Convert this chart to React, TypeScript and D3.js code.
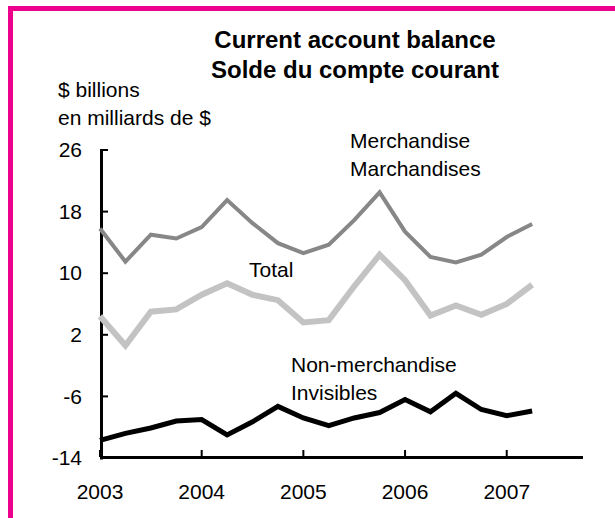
import React, { useEffect, useRef } from 'react';
import * as d3 from 'd3';

// quarterly observations, 2003Q1 .. 2007Q2 (as fractional years)
const periods = [
  2003, 2003.25, 2003.5, 2003.75,
  2004, 2004.25, 2004.5, 2004.75,
  2005, 2005.25, 2005.5, 2005.75,
  2006, 2006.25, 2006.5, 2006.75,
  2007, 2007.25,
];

const merchandise = [15.8, 11.5, 15.0, 14.5, 16.0, 19.5, 16.5, 13.9, 12.6, 13.7, 16.9, 20.5, 15.4, 12.1, 11.4, 12.4, 14.7, 16.4];
const total = [4.4, 0.6, 5.0, 5.3, 7.2, 8.7, 7.2, 6.5, 3.6, 3.9, 8.3, 12.4, 9.1, 4.5, 5.8, 4.6, 6.0, 8.5];
const nonMerchandise = [-11.7, -10.8, -10.1, -9.2, -9.0, -11.0, -9.3, -7.3, -8.8, -9.8, -8.8, -8.1, -6.4, -8.0, -5.6, -7.7, -8.5, -7.9];

const yTicks = [26, 18, 10, 2, -6, -14];
const xTicks = [2003, 2004, 2005, 2006, 2007];

const titleLines = ['Current account balance', 'Solde du compte courant'];
const unitLines = ['$ billions', 'en milliards de $'];

const FONT = '"Liberation Sans", Arial, Helvetica, sans-serif';
const MAGENTA = '#ec008c';

const App: React.FC = () => {
  const svgRef = useRef<SVGSVGElement>(null);
  const width = 615;
  const height = 518;

  useEffect(() => {
    if (!svgRef.current) return;
    const svg = d3.select(svgRef.current);
    svg.selectAll('*').remove();

    svg.append('rect')
      .attr('width', width)
      .attr('height', height)
      .attr('fill', '#fff');

    // magenta frame: top and left edges only
    svg.append('rect').attr('x', 8).attr('y', 6).attr('width', width - 8).attr('height', 5).attr('fill', MAGENTA);
    svg.append('rect').attr('x', 8).attr('y', 6).attr('width', 5).attr('height', height - 6).attr('fill', MAGENTA);

    const xScale = d3.scaleLinear().domain([2003, 2007.75]).range([100, 583]);
    const yScale = d3.scaleLinear().domain([-14, 26]).range([458, 150]);

    // titles
    svg.append('g')
      .selectAll('text')
      .data(titleLines)
      .join('text')
      .attr('x', 355)
      .attr('y', (_, i) => 48 + i * 30)
      .attr('text-anchor', 'middle')
      .attr('font-family', FONT)
      .attr('font-weight', 'bold')
      .attr('font-size', 24)
      .text(d => d);

    svg.append('g')
      .selectAll('text')
      .data(unitLines)
      .join('text')
      .attr('x', 58)
      .attr('y', (_, i) => 97 + i * 28)
      .attr('font-family', FONT)
      .attr('font-size', 21)
      .text(d => d);

    // y axis
    const yAxis = svg.append('g');
    yAxis.append('line')
      .attr('x1', 101.5).attr('x2', 101.5)
      .attr('y1', yScale(26) - 1).attr('y2', yScale(-14) + 1.5)
      .attr('stroke', '#000').attr('stroke-width', 3);
    yAxis.selectAll('line.tick')
      .data(yTicks)
      .join('line')
      .attr('class', 'tick')
      .attr('x1', 100).attr('x2', 108)
      .attr('y1', d => yScale(d)).attr('y2', d => yScale(d))
      .attr('stroke', '#000').attr('stroke-width', 2);
    yAxis.selectAll('text')
      .data(yTicks)
      .join('text')
      .attr('x', 82)
      .attr('y', d => yScale(d))
      .attr('dy', '0.34em')
      .attr('text-anchor', 'end')
      .attr('font-family', FONT)
      .attr('font-size', 21)
      .text(d => d);

    // x axis
    const xAxis = svg.append('g');
    xAxis.append('line')
      .attr('x1', 100).attr('x2', 583)
      .attr('y1', 457.5).attr('y2', 457.5)
      .attr('stroke', '#000').attr('stroke-width', 3);
    xAxis.selectAll('line.tick')
      .data(xTicks)
      .join('line')
      .attr('class', 'tick')
      .attr('x1', d => xScale(d)).attr('x2', d => xScale(d))
      .attr('y1', 450).attr('y2', 457)
      .attr('stroke', '#000').attr('stroke-width', 2);
    xAxis.selectAll('text')
      .data(xTicks)
      .join('text')
      .attr('x', d => xScale(d))
      .attr('y', 499)
      .attr('text-anchor', 'middle')
      .attr('font-family', FONT)
      .attr('font-size', 21)
      .text(d => d);

    // series
    const line = d3.line<number>()
      .x((_, i) => xScale(periods[i]))
      .y(d => yScale(d));

    const series = [
      { values: merchandise, color: '#878787', width: 4 },
      { values: total, color: '#c3c3c3', width: 6 },
      { values: nonMerchandise, color: '#000000', width: 5 },
    ];

    series.forEach(s => {
      svg.append('path')
        .datum(s.values)
        .attr('fill', 'none')
        .attr('stroke', s.color)
        .attr('stroke-width', s.width)
        .attr('stroke-linejoin', 'miter')
        .attr('d', line);
    });

    // series labels
    const labels = [
      { lines: ['Merchandise', 'Marchandises'], x: 350, y: 148 },
      { lines: ['Total'], x: 249, y: 277 },
      { lines: ['Non-merchandise', 'Invisibles'], x: 291, y: 372 },
    ];

    labels.forEach(l => {
      svg.append('g')
        .selectAll('text')
        .data(l.lines)
        .join('text')
        .attr('x', l.x)
        .attr('y', (_, i) => l.y + i * 28)
        .attr('font-family', FONT)
        .attr('font-size', 21)
        .text(d => d);
    });
  }, []);

  return (
    <svg
      ref={svgRef}
      width={width}
      height={height}
      style={{ position: 'absolute', left: 0, top: 0 }}
    />
  );
};

export default App;
